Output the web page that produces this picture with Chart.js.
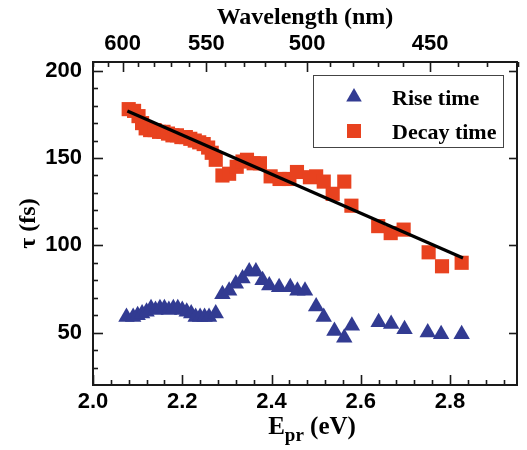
<!DOCTYPE html>
<html><head><meta charset="utf-8">
<script src="https://cdn.jsdelivr.net/npm/chart.js@4/dist/chart.umd.min.js"></script>
<style>html,body{margin:0;padding:0;background:#fff;}#wrap{width:527px;height:450px;}</style>
</head><body><div id="wrap"><canvas id="c" width="527" height="450"></canvas></div>
<script>
// ---- data ----
const riseE   = [2.075,2.090,2.100,2.110,2.120,2.130,2.140,2.150,2.160,2.170,2.180,2.190,2.200,2.210,2.220,2.230,2.240,2.250,2.260,2.275,2.290,2.305,2.320,2.335,2.350,2.365,2.380,2.395,2.417,2.442,2.458,2.475,2.500,2.517,2.541,2.563,2.580,2.640,2.668,2.698,2.750,2.780,2.826];
const riseTau = [59,59,60,61,62,64,63,64,64,63,64,64,63,62,61,59,59,59,59,61,72,74,78,81,85,85,80,77,76,76,74,74,65,59,51,47,54,56,55,52,50,49,49];
const decayE   = [2.080,2.092,2.102,2.110,2.118,2.128,2.138,2.148,2.158,2.168,2.178,2.188,2.198,2.208,2.218,2.228,2.238,2.248,2.258,2.266,2.275,2.290,2.305,2.322,2.335,2.345,2.360,2.374,2.398,2.418,2.440,2.457,2.486,2.500,2.517,2.537,2.563,2.579,2.639,2.667,2.696,2.752,2.782,2.826];
const decayTau = [178,177,174,170,167,166,166,165,165,164,163,163,162,162,161,160,159,158,156,153,149,140,141,145,148,149,147,147,139.5,138,138,142,139,139.5,136.5,129.5,136.5,122.7,111,107,109,96,88,90];
const fitE   = [2.077, 2.829];
const fitTau = [176.9, 92.7];
const energyTicks = [2.0, 2.2, 2.4, 2.6, 2.8];
const tauTicks = [50, 100, 150, 200];
const wavelengthTicks = [600, 550, 500, 450];
const wavelengthMinor = [620,610,600,590,580,570,560,550,540,530,520,510,500,490,480,470,460,450,440,430,420];
const HC = 1239.84; // eV*nm
const seriesNames = ['Rise time', 'Decay time'];

const BLUE = '#323b92', RED = '#e8421f', AX = '#1a1a1a';
const tickFont = {family: "'Liberation Sans', Arial, sans-serif", weight: 'bold', size: 22};
const titleFont = {family: "'Liberation Serif', 'Times New Roman', serif", weight: 'bold', size: 24};

const frameTicks = {
  id: 'frameTicks',
  afterDatasetsDraw(chart) {
    const {ctx, chartArea: a, scales} = chart;
    const x = scales.x, y = scales.y;
    ctx.save();
    ctx.strokeStyle = AX; ctx.lineWidth = 1.6;
    const seg = (x1, y1, x2, y2) => { ctx.beginPath(); ctx.moveTo(x1, y1); ctx.lineTo(x2, y2); ctx.stroke(); };
    for (let i = 0; i <= 23; i++) {
      const v = 2.0 + i * 0.04;
      const px = Math.round(x.getPixelForValue(v)) + 0.5;
      const major = energyTicks.some(t => Math.abs(t - v) < 1e-6);
      seg(px, a.bottom, px, a.bottom - (major ? 10 : 5));
    }
    wavelengthMinor.forEach(nm => {
      const px = Math.round(x.getPixelForValue(HC / nm)) + 0.5;
      const major = wavelengthTicks.includes(nm);
      seg(px, a.top, px, a.top + (major ? 10 : 5));
    });
    for (let v = 30; v <= 200; v += 10) {
      const py = Math.round(y.getPixelForValue(v)) + 0.5;
      const major = tauTicks.includes(v);
      seg(a.left, py, a.left + (major ? 10 : 5), py);
    }
    tauTicks.forEach(v => {
      const py = Math.round(y.getPixelForValue(v)) + 0.5;
      seg(a.right, py, a.right - 8, py);
    });
    ctx.restore();
  },
  afterDraw(chart) {
    const {ctx, chartArea: a} = chart;
    ctx.save();
    ctx.fillStyle = '#000';
    ctx.textBaseline = 'alphabetic';
    const big = "bold 25px 'Liberation Serif', serif", small = "bold 19px 'Liberation Serif', serif";
    ctx.font = big; const wE = ctx.measureText('E').width; const wR = ctx.measureText(' (eV)').width;
    ctx.font = small; const wS = ctx.measureText('pr').width;
    let sx = 312 - (wE + wS + wR) / 2;
    const base = 434;
    ctx.font = big; ctx.fillText('E', sx, base); sx += wE;
    ctx.font = small; ctx.fillText('pr', sx, base + 7); sx += wS;
    ctx.font = big; ctx.fillText(' (eV)', sx, base);
    const bx = a.right - 204, by = a.top + 13, bw = 190, bh = 72;
    ctx.strokeStyle = '#444'; ctx.lineWidth = 1;
    ctx.strokeRect(bx + 0.5, by + 0.5, bw, bh);
    const tx = bx + 41, ty = by + 22, r = 9;
    ctx.fillStyle = BLUE; ctx.beginPath();
    ctx.moveTo(tx, ty - r);
    ctx.lineTo(tx + r * Math.sin(Math.PI / 3), ty + r / 2);
    ctx.lineTo(tx - r * Math.sin(Math.PI / 3), ty + r / 2);
    ctx.closePath(); ctx.fill();
    ctx.fillStyle = RED; ctx.fillRect(bx + 34, by + 49, 14, 14);
    ctx.fillStyle = '#000'; ctx.font = "bold 22px 'Liberation Serif', serif";
    ctx.textBaseline = 'middle';
    ctx.fillText(seriesNames[0], bx + 79, by + 24);
    ctx.fillText(seriesNames[1], bx + 79, by + 58);
    ctx.restore();
  }
};

const toXY = (xs, ys) => xs.map((v, i) => ({x: v, y: ys[i]}));

new Chart(document.getElementById('c'), {
  type: 'scatter',
  data: {
    datasets: [
      {label: 'fit', data: toXY(fitE, fitTau), showLine: true, borderColor: '#000', borderWidth: 3.2, pointRadius: 0, fill: false},
      {label: seriesNames[0], data: toXY(riseE, riseTau), pointStyle: 'triangle', pointRadius: 9.5, backgroundColor: BLUE, borderColor: BLUE, borderWidth: 0},
      {label: seriesNames[1], data: toXY(decayE, decayTau), pointStyle: 'rect', pointRadius: 10, backgroundColor: RED, borderColor: RED, borderWidth: 0}
    ]
  },
  options: {
    responsive: false, animation: false, devicePixelRatio: 1,
    layout: {padding: {left: 0, right: 5, top: 0, bottom: 0}},
    plugins: {legend: {display: false}, tooltip: {enabled: false}},
    scales: {
      x: {
        type: 'linear', position: 'bottom', min: 2.0, max: 2.95,
        grid: {display: false, drawTicks: false, tickLength: 0},
        border: {display: true, color: AX, width: 2},
        afterBuildTicks: s => { s.ticks = energyTicks.map(v => ({value: v})); },
        ticks: {font: tickFont, color: '#000', padding: 4, maxRotation: 0, autoSkip: false, callback: v => Number(v).toFixed(1)},
        afterFit: s => { s.height = 65; }
      },
      x2: {
        type: 'linear', position: 'top', min: 2.0, max: 2.95,
        grid: {display: false, drawTicks: false, tickLength: 0},
        border: {display: true, color: AX, width: 2},
        afterBuildTicks: s => { s.ticks = wavelengthTicks.map(nm => ({value: HC / nm})); },
        ticks: {font: tickFont, color: '#000', padding: 5, maxRotation: 0, autoSkip: false, callback: v => String(Math.round(HC / v / 10) * 10)},
        title: {display: true, text: 'Wavelength (nm)', font: titleFont, color: '#000', padding: {top: 3, bottom: 0}},
        afterFit: s => { s.height = 62; }
      },
      y: {
        type: 'linear', position: 'left', min: 20, max: 205,
        grid: {display: false, drawTicks: false, tickLength: 0},
        border: {display: true, color: AX, width: 2},
        afterBuildTicks: s => { s.ticks = tauTicks.map(v => ({value: v})); },
        ticks: {font: tickFont, color: '#000', padding: 11, autoSkip: false},
        title: {display: true, text: 'τ (fs)', font: titleFont, color: '#000', padding: {top: 14, bottom: 0}},
        afterFit: s => { s.width = 93; }
      },
      y2: {
        type: 'linear', position: 'right', min: 20, max: 205,
        grid: {display: false, drawTicks: false, tickLength: 0},
        border: {display: true, color: AX, width: 2},
        ticks: {display: false},
        afterFit: s => { s.width = 0; }
      }
    }
  },
  plugins: [frameTicks]
});
</script>
</body></html>
